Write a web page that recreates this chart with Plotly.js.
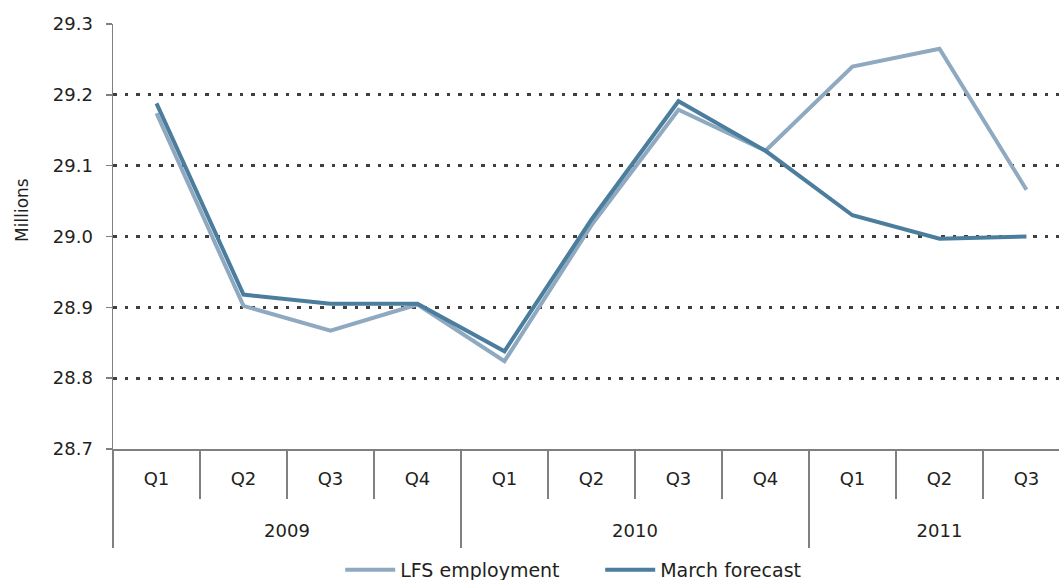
<!DOCTYPE html>
<html>
<head>
<meta charset="utf-8">
<script src="https://cdn.plot.ly/plotly-3.0.1.min.js"></script>
<style>html,body{margin:0;padding:0;background:#fff;}#chart{width:1059px;height:580px;}</style>
</head>
<body>
<div id="chart"></div>
<script>
const years = ["2009","2009","2009","2009","2010","2010","2010","2010","2011","2011","2011"];
const quarters = ["Q1","Q2","Q3","Q4","Q1","Q2","Q3","Q4","Q1","Q2","Q3"];
const lfsEmployment = [29.174, 28.902, 28.867, 28.904, 28.824, 29.016, 29.179, 29.121, 29.240, 29.265, 29.066];
const marchForecast = [29.188, 28.918, 28.905, 28.905, 28.838, 29.024, 29.191, 29.121, 29.030, 28.997, 29.000];
const yTicks = [28.7, 28.8, 28.9, 29.0, 29.1, 29.2, 29.3];
const yTickText = ["28.7","28.8","28.9","29.0","29.1","29.2","29.3"];

const FONT = "'DejaVu Sans', sans-serif";
const TXT = "#231f20";
const AXIS = "#808080";
const categories = years.map((y, i) => y + " " + quarters[i]);
const n = categories.length;
const xRange = [-0.5, 10.374];

// quarter boundaries
const qBounds = [];
for (let i = 0; i <= n; i++) qBounds.push(i - 0.5);
// year boundaries and centres
const yearNames = [], yearStart = [], yearEnd = [];
years.forEach((y, i) => {
  if (!yearNames.length || yearNames[yearNames.length - 1] !== y) {
    yearNames.push(y); yearStart.push(i); yearEnd.push(i);
  } else yearEnd[yearEnd.length - 1] = i;
});
const yBounds = yearStart.map(s => s - 0.5).concat([n - 0.5]);
const yCentres = yearStart.map((s, k) => (s + yearEnd[k]) / 2);

const emptyTrace = (ax) => ({x: [0], y: [null], xaxis: ax, yaxis: "y", type: "scatter",
  mode: "lines", showlegend: false, hoverinfo: "skip"});

const traces = [
  {x: categories, y: lfsEmployment, name: "LFS employment", type: "scatter", mode: "lines",
   line: {color: "#8FA9C1", width: 4}},
  {x: categories, y: marchForecast, name: "March forecast", type: "scatter", mode: "lines",
   line: {color: "#4B7D9D", width: 4}},
  emptyTrace("x2"), emptyTrace("x3"), emptyTrace("x4")
];

const common = {range: xRange, showgrid: false, zeroline: false, showline: false};

const layout = {
  width: 1059, height: 580,
  margin: {l: 113, r: 0, t: 24, b: 131, autoexpand: false},
  paper_bgcolor: "#fff", plot_bgcolor: "#fff",
  font: {family: FONT, size: 18, color: TXT},
  showlegend: true,
  legend: {
    orientation: "h", x: 0.515, xanchor: "center",
    yref: "container", y: 0.0172, yanchor: "middle",
    font: {family: FONT, size: 19, color: TXT}, traceorder: "normal",
    itemwidth: 50, entrywidth: 195, entrywidthmode: "pixels"
  },
  xaxis: {
    type: "category", categoryorder: "array", categoryarray: categories, range: xRange,
    tickmode: "array", tickvals: categories, ticktext: quarters,
    showline: true, linecolor: AXIS, linewidth: 1.5, mirror: false,
    ticks: "outside", ticklen: 13, tickcolor: "rgba(0,0,0,0)",
    showgrid: false, zeroline: false,
    tickfont: {family: FONT, size: 18, color: TXT}
  },
  xaxis2: Object.assign({}, common, {
    overlaying: "x", anchor: "y", side: "bottom", type: "linear",
    tickmode: "array", tickvals: qBounds, showticklabels: false,
    ticks: "outside", ticklen: 49, tickwidth: 1.5, tickcolor: AXIS
  }),
  xaxis3: Object.assign({}, common, {
    overlaying: "x", anchor: "y", side: "bottom", type: "linear",
    tickmode: "array", tickvals: yBounds, showticklabels: false,
    ticks: "outside", ticklen: 98, tickwidth: 1.5, tickcolor: AXIS
  }),
  xaxis4: Object.assign({}, common, {
    overlaying: "x", anchor: "y", side: "bottom", type: "linear",
    tickmode: "array", tickvals: yCentres, ticktext: yearNames,
    ticks: "outside", ticklen: 65, tickcolor: "rgba(0,0,0,0)",
    tickfont: {family: FONT, size: 18, color: TXT}
  }),
  yaxis: {
    range: [28.7, 29.3], tickmode: "array", tickvals: yTicks, ticktext: yTickText,
    showline: true, linecolor: AXIS, linewidth: 1.5,
    ticks: "outside", ticklen: 6, tickcolor: AXIS, tickwidth: 1.5,
    ticklabelstandoff: 9,
    showgrid: true, gridcolor: "#3f3f3f", gridwidth: 3, griddash: "3.5px,8px",
    zeroline: false,
    tickfont: {family: FONT, size: 18, color: TXT}
  },
  annotations: [{
    text: "Millions", xref: "paper", yref: "paper", x: -0.096, y: 0.563,
    xanchor: "center", yanchor: "middle", textangle: -90, showarrow: false,
    font: {family: FONT, size: 17, color: TXT}
  }]
};

Plotly.newPlot("chart", traces, layout, {displayModeBar: false, staticPlot: true});
</script>
</body>
</html>
